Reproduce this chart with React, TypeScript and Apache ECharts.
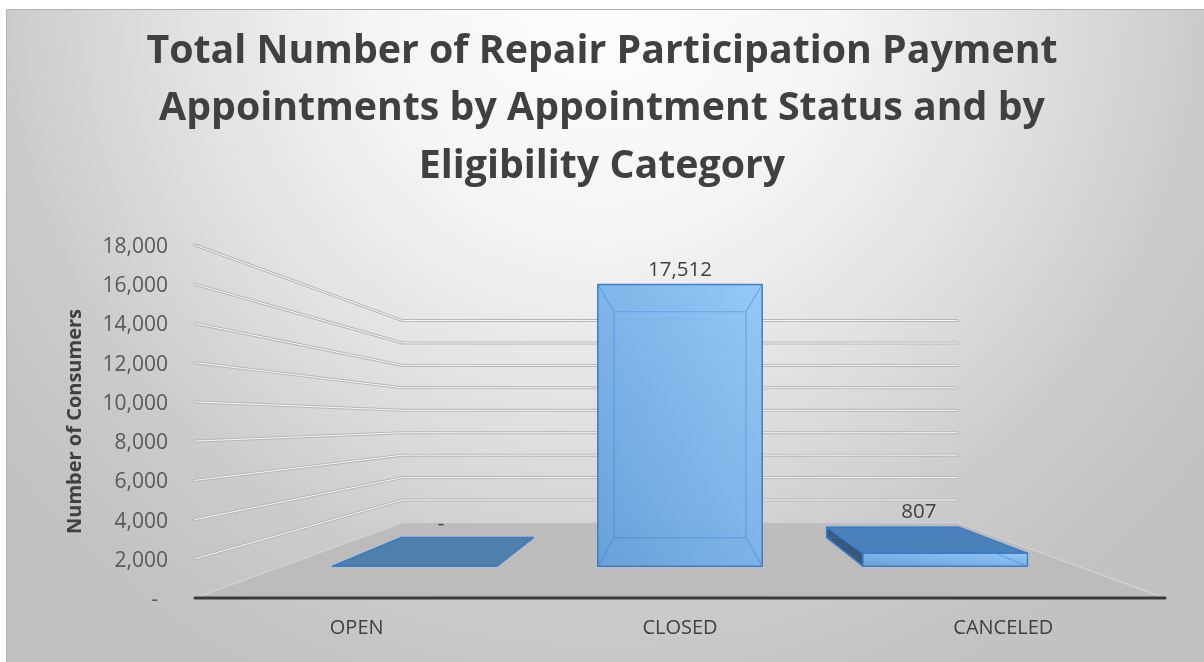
import React, { useEffect, useRef } from "react";
import * as echarts from "echarts";

const titleLines = [
  "Total Number of Repair Participation Payment",
  "Appointments by Appointment Status and by",
  "Eligibility Category",
];
const categories = ["OPEN", "CLOSED", "CANCELED"];
const consumers = [0, 17512, 807];
const yTickValues = [2000, 4000, 6000, 8000, 10000, 12000, 14000, 16000, 18000];
const yAxisTitle = "Number of Consumers";

const FONT = "'Open Sans', 'Noto Sans', sans-serif";
const DEPTH_SHRINK = 0.428;
const BAR_FRONT = 0.42;
const BAR_BACK = 0.8;
const BAR_WIDTH = 0.62;

function fmt(v: number): string {
  return v === 0 ? "-" : v.toLocaleString("en-US");
}

function projector(cs: any) {
  const vx = cs.x + cs.width / 2;
  const vy = cs.y + cs.height / 2;
  const P = (x: number, y: number, d: number) => {
    const s = 1 - DEPTH_SHRINK * d;
    return [vx + (x - vx) * s, vy + (y - vy) * s];
  };
  return { vx, vy, P };
}

function renderWalls(params: any, api: any) {
  const cs = params.coordSys;
  const { P } = projector(cs);
  const xL = cs.x;
  const xR = cs.x + cs.width;
  const y0 = api.coord([0, 0])[1];
  const children: any[] = [];
  children.push({
    type: "polygon",
    shape: { points: [[xL, y0], [xR, y0], P(xR, y0, 1), P(xL, y0, 1)] },
    style: { fill: "#bcbcbc", stroke: "#d0d0d0", lineWidth: 1.5 },
  });
  yTickValues.forEach((v) => {
    const y = api.coord([0, v])[1];
    const pts = [[xL, y], P(xL, y, 1), P(xR, y, 1)];
    children.push({
      type: "polyline",
      shape: { points: pts },
      style: { fill: null, stroke: "#b6b6b6", lineWidth: 3, lineCap: "round", lineJoin: "round" },
    });
    children.push({
      type: "polyline",
      shape: { points: pts },
      style: { fill: null, stroke: "#f7f7f7", lineWidth: 1, lineCap: "round", lineJoin: "round" },
    });
  });
  children.push({
    type: "line",
    shape: { x1: xL, y1: y0, x2: xR, y2: y0 },
    style: { stroke: "#3a3a3a", lineWidth: 3, lineCap: "round" },
  });
  return { type: "group", children };
}

function renderBar(params: any, api: any) {
  const cs = params.coordSys;
  const { vx, vy, P } = projector(cs);
  const i = api.value(0);
  const v = api.value(1);
  const base = api.coord([i, 0]);
  const top = api.coord([i, v]);
  const bw = api.size([1, 0])[0] * BAR_WIDTH;
  const xl = base[0] - bw / 2;
  const xr = base[0] + bw / 2;
  const yb = base[1];
  const yt = top[1];
  const f = (x: number, y: number) => P(x, y, BAR_FRONT);
  const b = (x: number, y: number) => P(x, y, BAR_BACK);
  const fbl = f(xl, yb), fbr = f(xr, yb), ftl = f(xl, yt), ftr = f(xr, yt);
  const bbl = b(xl, yb), bbr = b(xr, yb), btl = b(xl, yt), btr = b(xr, yt);
  const edge = "#3a7bc8";
  const poly = (pts: number[][], fill: any, opacity = 1) => ({
    type: "polygon",
    shape: { points: pts },
    style: { fill, stroke: edge, lineWidth: 1.5, lineJoin: "round", opacity },
  });
  const line = (a: number[], c: number[]) => ({
    type: "line",
    shape: { x1: a[0], y1: a[1], x2: c[0], y2: c[1] },
    style: { stroke: "rgba(60,130,210,0.45)", lineWidth: 1.2 },
  });
  const children: any[] = [];
  const hasHeight = yb - yt > 0.5;
  if (yt > vy) {
    children.push(poly([ftl, ftr, btr, btl], hasHeight ? "#4b81ba" : "#4f7fab"));
  }
  if (hasHeight) {
    if (xl > vx) children.push(poly([fbl, ftl, btl, bbl], "#36597c"));
    if (xr < vx) children.push(poly([fbr, ftr, btr, bbr], "#36597c"));
    children.push(
      poly(
        [ftl, ftr, fbr, fbl],
        new echarts.graphic.LinearGradient(0, 1, 1, 0, [
          { offset: 0, color: "#659fda" },
          { offset: 1, color: "#90c7f7" },
        ]),
        0.96
      )
    );
    children.push(line(btl, btr), line(btr, bbr), line(bbr, bbl), line(bbl, btl));
    children.push(line(ftl, btl), line(ftr, btr), line(fbl, bbl), line(fbr, bbr));
  }
  const mid = P(base[0], yt, (BAR_FRONT + BAR_BACK) / 2);
  children.push({
    type: "text",
    x: mid[0],
    y: mid[1] - 30,
    style: {
      text: fmt(v),
      fill: "#404040",
      fontSize: 20.5,
      fontFamily: FONT,
      align: "center",
      verticalAlign: "middle",
    },
  });
  return { type: "group", children };
}

export default function App() {
  const ref = useRef<HTMLDivElement>(null);
  useEffect(() => {
    const chart = echarts.init(ref.current as HTMLDivElement, null, { renderer: "svg" });
    const option: any = {
      animation: false,
      title: {
        text: titleLines.join("\n"),
        left: "center",
        top: 19,
        padding: 0,
        textStyle: {
          fontSize: 39.3,
          fontWeight: "bold",
          fontFamily: FONT,
          color: "#404040",
          lineHeight: 57.5,
        },
      },
      graphic: [
        {
          type: "rect",
          z: -10,
          silent: true,
          shape: { x: 6.5, y: 9.5, width: 1200, height: 660 },
          style: {
            fill: new echarts.graphic.RadialGradient(
              602,
              0,
              750,
              [
                { offset: 0, color: "#fdfdfd" },
                { offset: 0.3, color: "#f5f5f5" },
                { offset: 0.55, color: "#e2e2e2" },
                { offset: 0.8, color: "#cbcbcb" },
                { offset: 1, color: "#c2c2c2" },
              ],
              true
            ),
            stroke: "#b2b2b2",
            lineWidth: 1,
          },
        },
      ],
      grid: { left: 195, right: 39, top: 245, bottom: 64 },
      xAxis: {
        type: "category",
        data: categories,
        axisLine: { show: false },
        axisTick: { show: false },
        splitLine: { show: false },
        axisLabel: { color: "#404040", fontSize: 20, fontFamily: FONT, margin: 18 },
      },
      yAxis: {
        type: "value",
        min: 0,
        max: 18000,
        interval: 2000,
        axisLine: { show: false },
        axisTick: { show: false },
        splitLine: { show: false },
        axisLabel: {
          color: "#595959",
          fontSize: 21,
          fontFamily: FONT,
          margin: 27,
          formatter: (v: number) => (v === 0 ? "{dash|-}" : fmt(v)),
          rich: {
            dash: {
              color: "#595959",
              fontSize: 21,
              fontFamily: FONT,
              padding: [0, 10, 0, 0],
            },
          },
        },
        name: yAxisTitle,
        nameLocation: "middle",
        nameRotate: 90,
        nameGap: 112,
        nameTextStyle: { fontSize: 20, fontWeight: "bold", color: "#404040", fontFamily: FONT },
      },
      series: [
        {
          type: "custom",
          name: "walls",
          coordinateSystem: "cartesian2d",
          data: [[0, 0]],
          renderItem: renderWalls,
          clip: false,
          silent: true,
          z: 1,
        },
        {
          type: "custom",
          name: "Consumers",
          coordinateSystem: "cartesian2d",
          data: categories.map((c, i) => [i, consumers[i]]),
          encode: { x: 0, y: 1 },
          renderItem: renderBar,
          clip: false,
          z: 3,
        },
      ],
    };
    chart.setOption(option);
    return () => chart.dispose();
  }, []);
  return (
    <div
      ref={ref}
      style={{ position: "fixed", left: 0, top: 0, width: 1204, height: 662 }}
    />
  );
}
